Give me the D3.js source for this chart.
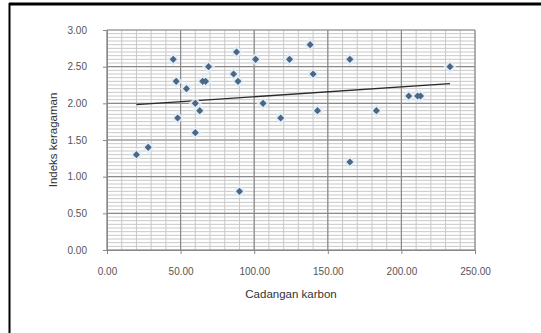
<!DOCTYPE html>
<html>
<head>
<meta charset="utf-8">
<script src="https://cdn.jsdelivr.net/npm/d3@7"></script>
<style>
  html, body { margin: 0; padding: 0; background: #fff; overflow: hidden; }
  svg { display: block; }
  text { font-family: "Liberation Sans", Arial, sans-serif; }
</style>
</head>
<body>
<script>
// carbon stock (x) vs diversity index (y)
var karbon = [20, 28, 45, 47, 48, 54, 60, 60, 63, 65, 67, 69, 86, 88, 89, 90,
              101, 106, 118, 124, 138, 140, 143, 165, 165, 183, 205, 211, 213, 233];
var indeks = [1.30, 1.40, 2.60, 2.30, 1.80, 2.20, 1.60, 2.00, 1.90, 2.30, 2.30, 2.50, 2.40, 2.70, 2.30, 0.80,
              2.60, 2.00, 1.80, 2.60, 2.80, 2.40, 1.90, 2.60, 1.20, 1.90, 2.10, 2.10, 2.10, 2.50];
var xTicks = [0, 50, 100, 150, 200, 250];
var yTicks = [0, 0.5, 1, 1.5, 2, 2.5, 3];

var width = 541, height = 333;
var margin = { top: 30, right: 66, bottom: 83, left: 107 };
var w = width - margin.left - margin.right,
    h = height - margin.top - margin.bottom;

var svg = d3.select("body").append("svg")
  .attr("width", width)
  .attr("height", height);

// scan frame
svg.append("line").attr("x1", 9).attr("x2", width).attr("y1", 4).attr("y2", 4)
  .attr("stroke", "#000").attr("stroke-width", 3);
svg.append("line").attr("x1", 9.5).attr("x2", 9.5).attr("y1", 3).attr("y2", height)
  .attr("stroke", "#000").attr("stroke-width", 2);

var g = svg.append("g")
  .attr("transform", "translate(" + margin.left + "," + margin.top + ")");

var x = d3.scaleLinear().domain([0, 250]).range([0, w]);
var y = d3.scaleLinear().domain([0, 3]).range([h, 0]);

// minor grid
g.append("g").selectAll("line")
  .data(d3.range(0, 251, 10))
  .enter().append("line")
  .attr("x1", function (d) { return x(d); }).attr("x2", function (d) { return x(d); })
  .attr("y1", 0).attr("y2", h)
  .attr("stroke", "#c8c8c8").attr("stroke-width", 1);
g.append("g").selectAll("line")
  .data(d3.range(0, 61).map(function (i) { return i * 0.05; }))
  .enter().append("line")
  .attr("y1", function (d) { return y(d); }).attr("y2", function (d) { return y(d); })
  .attr("x1", 0).attr("x2", w)
  .attr("stroke", "#c8c8c8").attr("stroke-width", 1);

// major grid
g.append("g").selectAll("line")
  .data(xTicks)
  .enter().append("line")
  .attr("x1", function (d) { return x(d); }).attr("x2", function (d) { return x(d); })
  .attr("y1", 0).attr("y2", h)
  .attr("stroke", "#8a8a8a").attr("stroke-width", 1.2);
g.append("g").selectAll("line")
  .data(yTicks)
  .enter().append("line")
  .attr("y1", function (d) { return y(d); }).attr("y2", function (d) { return y(d); })
  .attr("x1", 0).attr("x2", w)
  .attr("stroke", "#8a8a8a").attr("stroke-width", 1.2);

// axes
var xAxis = g.append("g")
  .attr("transform", "translate(0," + h + ")")
  .call(d3.axisBottom(x).tickValues(xTicks).tickSize(4).tickPadding(14)
    .tickFormat(d3.format(".2f")));
var yAxis = g.append("g")
  .call(d3.axisLeft(y).tickValues(yTicks).tickSize(4).tickPadding(16)
    .tickFormat(d3.format(".2f")));
[xAxis, yAxis].forEach(function (a) {
  a.select(".domain").attr("stroke", "#888");
  a.selectAll(".tick line").attr("stroke", "#888");
  a.selectAll("text").attr("fill", "#555").style("font-size", "10px");
});

// trend line (least squares)
var n = karbon.length;
var mx = d3.mean(karbon), my = d3.mean(indeks);
var sxy = 0, sxx = 0;
for (var i = 0; i < n; i++) {
  sxy += (karbon[i] - mx) * (indeks[i] - my);
  sxx += (karbon[i] - mx) * (karbon[i] - mx);
}
var slope = sxy / sxx, icpt = my - slope * mx;
var x0 = d3.min(karbon), x1 = d3.max(karbon);
g.append("line")
  .attr("x1", x(x0)).attr("y1", y(icpt + slope * x0))
  .attr("x2", x(x1)).attr("y2", y(icpt + slope * x1))
  .attr("stroke", "#2a2a2a").attr("stroke-width", 1.3);

// points
var pts = karbon.map(function (d, i) { return { x: d, y: indeks[i] }; });
var diamond = d3.symbol().type(d3.symbolDiamond2);
g.append("g").selectAll("path.halo")
  .data(pts)
  .enter().append("path")
  .attr("class", "halo")
  .attr("transform", function (d) { return "translate(" + x(d.x) + "," + y(d.y) + ")"; })
  .attr("d", diamond.size(110)())
  .attr("fill", "#e2edf8").attr("opacity", 0.85);
g.append("g").selectAll("path.dot")
  .data(pts)
  .enter().append("path")
  .attr("class", "dot")
  .attr("transform", function (d) { return "translate(" + x(d.x) + "," + y(d.y) + ")"; })
  .attr("d", diamond.size(32)())
  .attr("fill", "#4d6683");

// titles
svg.append("text")
  .attr("x", margin.left + x(125)).attr("y", 298)
  .attr("text-anchor", "middle")
  .attr("fill", "#333").style("font-size", "11.5px")
  .text("Cadangan karbon");
svg.append("text")
  .attr("transform", "translate(57," + (margin.top + y(1.5)) + ") rotate(-90)")
  .attr("text-anchor", "middle")
  .attr("fill", "#333").style("font-size", "11.5px")
  .text("Indeks keragaman");
</script>
</body>
</html>
